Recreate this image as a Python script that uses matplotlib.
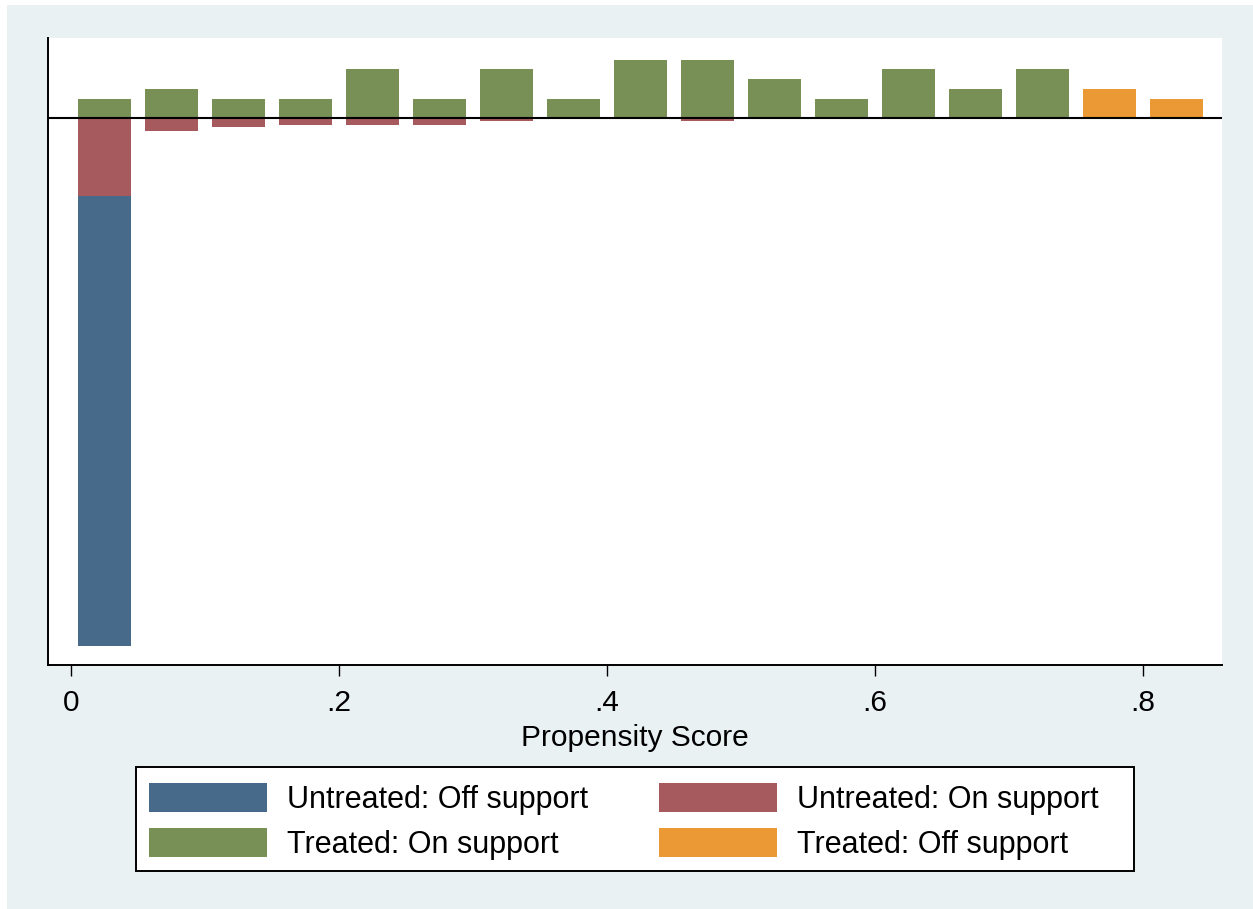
import matplotlib
matplotlib.use("Agg")
import matplotlib.pyplot as plt
from matplotlib.patches import Rectangle, Patch

# bin midpoints of the propensity score histogram
bin_mid = [0.025, 0.075, 0.125, 0.175, 0.225, 0.275, 0.325, 0.375, 0.425,
           0.475, 0.525, 0.575, 0.625, 0.675, 0.725, 0.775, 0.825]

# frequencies per bin (untreated plotted below zero)
untreated_off = [46, 0, 0, 0, 0, 0, 0, 0, 0, 0, 0, 0, 0, 0, 0, 0, 0]
untreated_on = [8, 1.3, 0.9, 0.7, 0.7, 0.7, 0.3, 0, 0, 0.3, 0, 0, 0, 0, 0, 0, 0]
treated_on = [2, 3, 2, 2, 5, 2, 5, 2, 6, 6, 4, 2, 5, 3, 5, 0, 0]
treated_off = [0, 0, 0, 0, 0, 0, 0, 0, 0, 0, 0, 0, 0, 0, 0, 3, 2]

x_ticks = [0, 0.2, 0.4, 0.6, 0.8]
x_ticklabels = ["0", ".2", ".4", ".6", ".8"]

legend_labels = ["Untreated: Off support", "Untreated: On support",
                 "Treated: On support", "Treated: Off support"]

c_blue = "#476a8a"
c_red = "#a65a5e"
c_green = "#788f56"
c_orange = "#ea9934"
bg = "#eaf1f3"

plt.rcParams["font.family"] = ["Liberation Sans", "DejaVu Sans"]

W, H = 1253, 909
fig = plt.figure(figsize=(W / 100, H / 100), dpi=100, facecolor="white")
fig.patches.append(Rectangle((7 / W, 0), 1, 1 - 5 / H,
                             transform=fig.transFigure, facecolor=bg,
                             edgecolor="none", zorder=-10))

ax = fig.add_axes([48 / W, 1 - 665 / H, (1222 - 48) / W, (665 - 38) / H])
ax.set_facecolor("white")

width = 0.04
neg_on = [-v for v in untreated_on]
neg_off = [-v for v in untreated_off]
ax.bar(bin_mid, neg_on, width=width, color=c_red, zorder=2)
ax.bar(bin_mid, neg_off, width=width, bottom=neg_on, color=c_blue, zorder=2)
ax.bar(bin_mid, treated_on, width=width, color=c_green, zorder=2)
ax.bar(bin_mid, treated_off, width=width, color=c_orange, zorder=2)

ax.axhline(0, color="black", lw=1.5, zorder=3)

ax.set_xlim(-0.0172, 0.859)
ax.set_ylim(-55.9, 8.2)
ax.set_yticks([])
ax.set_xticks(x_ticks)
ax.set_xticklabels(x_ticklabels)
ax.tick_params(axis="x", length=8, width=1.0, pad=9, labelsize=21.5,
               colors="black")
ax.set_xlabel("Propensity Score", fontsize=21.5, labelpad=5)

for s in ["top", "right"]:
    ax.spines[s].set_visible(False)
for s in ["left", "bottom"]:
    ax.spines[s].set_linewidth(1.4)
    ax.spines[s].set_color("black")

# legend box
fig.patches.append(Rectangle((136 / W, 1 - 871 / H), 998 / W, 104 / H,
                             transform=fig.transFigure, facecolor="white",
                             edgecolor="black", lw=1.4, zorder=-5))

# entries filled column by column: left column blue/green, right red/orange
order = [0, 2, 1, 3]
colors = [c_blue, c_red, c_green, c_orange]
handles = [Patch(facecolor=colors[i], edgecolor="none") for i in order]
labels = [legend_labels[i] for i in order]
fig.legend(handles, labels, ncol=2, loc="upper left",
           bbox_to_anchor=(149 / W, 1 - 783 / H),
           fontsize=22, frameon=False,
           handlelength=3.87, handleheight=1.1, handletextpad=0.65,
           labelspacing=0.42, columnspacing=2.3, borderaxespad=0,
           borderpad=0)

fig.savefig("out.png", dpi=100, facecolor=fig.get_facecolor())
